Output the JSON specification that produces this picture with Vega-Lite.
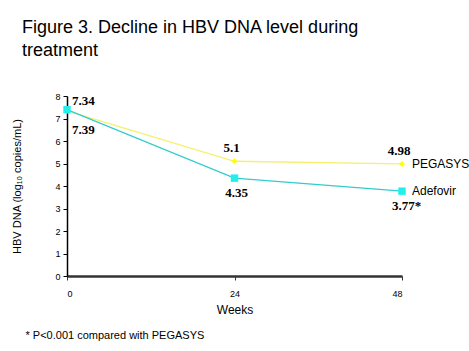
{
  "$schema": "https://vega.github.io/schema/vega-lite/v6.json",
  "autosize": "none",
  "width": 335,
  "height": 180,
  "padding": {"left": 67, "top": 96, "right": 67, "bottom": 75},
  "background": "white",
  "title": {
    "text": ["Figure 3. Decline in HBV DNA level during", "treatment"],
    "fontSize": 18,
    "fontWeight": "normal",
    "font": "Liberation Sans",
    "anchor": "start",
    "frame": "group",
    "dx": -45,
    "dy": -28,
    "lineHeight": 23,
    "color": "black"
  },
  "config": {
    "view": {"stroke": null},
    "font": "Liberation Sans",
    "axis": {"grid": false, "titleFontWeight": "normal", "titleColor": "black", "labelColor": "black"}
  },
  "data": {
    "values": [
      {"series": "PEGASYS", "week": 0, "value": 7.34, "label": "7.34"},
      {"series": "PEGASYS", "week": 24, "value": 5.1, "label": "5.1"},
      {"series": "PEGASYS", "week": 48, "value": 4.98, "label": "4.98"},
      {"series": "Adefovir", "week": 0, "value": 7.39, "label": "7.39"},
      {"series": "Adefovir", "week": 24, "value": 4.35, "label": "4.35"},
      {"series": "Adefovir", "week": 48, "value": 3.77, "label": "3.77*"}
    ]
  },
  "layer": [
    {
      "encoding": {
        "x": {"field": "week", "type": "quantitative", "scale": {"domain": [0, 48]},
          "axis": {"orient": "bottom", "values": [0, 24, 48], "title": "Weeks", "titleFontSize": 12, "titlePadding": 6,
            "labelFontSize": 9, "labelPadding": 9, "tickSize": 4, "domainColor": "#333333", "tickColor": "#333333", "domainWidth": 2.5}},
        "y": {"field": "value", "type": "quantitative", "scale": {"domain": [0, 8]},
          "axis": {"values": [0,1,2,3,4,5,6,7,8], "title": "HBV DNA (log₁₀ copies/mL)", "titleFontSize": 11, "titlePadding": 32,
            "labelFontSize": 9, "labelPadding": 3, "tickSize": 4, "domainColor": "black", "tickColor": "black", "domainWidth": 1.5}}
      },
      "layer": [
        {
          "mark": {"type": "line", "strokeWidth": 1.3},
          "encoding": {
            "color": {"field": "series", "type": "nominal", "scale": {"domain": ["PEGASYS", "Adefovir"], "range": ["#F5F070", "#33CCCC"]}, "legend": null},
            "order": {"field": "week"}
          }
        },
        {
          "mark": {"type": "point", "filled": true, "opacity": 1},
          "encoding": {
            "shape": {"field": "series", "type": "nominal", "scale": {"domain": ["PEGASYS", "Adefovir"], "range": ["diamond", "square"]}, "legend": null},
            "fill": {"field": "series", "type": "nominal", "scale": {"domain": ["PEGASYS", "Adefovir"], "range": ["#FFFF00", "#22EEEE"]}, "legend": null},
            "size": {"field": "series", "type": "nominal", "scale": {"domain": ["PEGASYS", "Adefovir"], "range": [35, 55]}, "legend": null}
          }
        },
        {
          "transform": [{"filter": "datum.week == 0 && datum.series == 'PEGASYS'"}],
          "mark": {"type": "text", "align": "left", "baseline": "middle", "dx": 5, "dy": -10, "font": "Liberation Serif", "fontWeight": "bold", "fontSize": 13, "color": "black"},
          "encoding": {"text": {"field": "label"}}
        },
        {
          "transform": [{"filter": "datum.week == 0 && datum.series == 'Adefovir'"}],
          "mark": {"type": "text", "align": "left", "baseline": "middle", "dx": 5, "dy": 20, "font": "Liberation Serif", "fontWeight": "bold", "fontSize": 13, "color": "black"},
          "encoding": {"text": {"field": "label"}}
        },
        {
          "transform": [{"filter": "datum.week > 0 && datum.series == 'PEGASYS'"}],
          "mark": {"type": "text", "align": "center", "baseline": "middle", "dx": -3, "dy": -13, "font": "Liberation Serif", "fontWeight": "bold", "fontSize": 13, "color": "black"},
          "encoding": {"text": {"field": "label"}}
        },
        {
          "transform": [{"filter": "datum.week == 24 && datum.series == 'Adefovir'"}],
          "mark": {"type": "text", "align": "center", "baseline": "middle", "dx": 2, "dy": 15, "font": "Liberation Serif", "fontWeight": "bold", "fontSize": 13, "color": "black"},
          "encoding": {"text": {"field": "label"}}
        },
        {
          "transform": [{"filter": "datum.week == 48 && datum.series == 'Adefovir'"}],
          "mark": {"type": "text", "align": "left", "baseline": "middle", "dx": -10, "dy": 15, "font": "Liberation Serif", "fontWeight": "bold", "fontSize": 13, "color": "black"},
          "encoding": {"text": {"field": "label"}}
        },
        {
          "transform": [{"filter": "datum.week == 48"}],
          "mark": {"type": "text", "align": "left", "baseline": "middle", "dx": 10, "font": "Liberation Sans", "fontSize": 12, "color": "black"},
          "encoding": {"text": {"field": "series"}}
        }
      ]
    },
    {
      "mark": {"type": "point", "opacity": 0},
      "encoding": {
        "x": {"field": "week", "type": "quantitative", "scale": {"domain": [0, 48]},
          "axis": {"orient": "bottom", "title": "* P<0.001  compared with PEGASYS", "titleFontSize": 11, "titleAnchor": "start", "titleAlign": "left", "titleBaseline": "middle", "titleX": -42, "titleY": 59,
            "domain": false, "ticks": false, "labels": false, "titleColor": "black"}}
      }
    }
  ],
  "resolve": {"axis": {"x": "independent"}}
}
